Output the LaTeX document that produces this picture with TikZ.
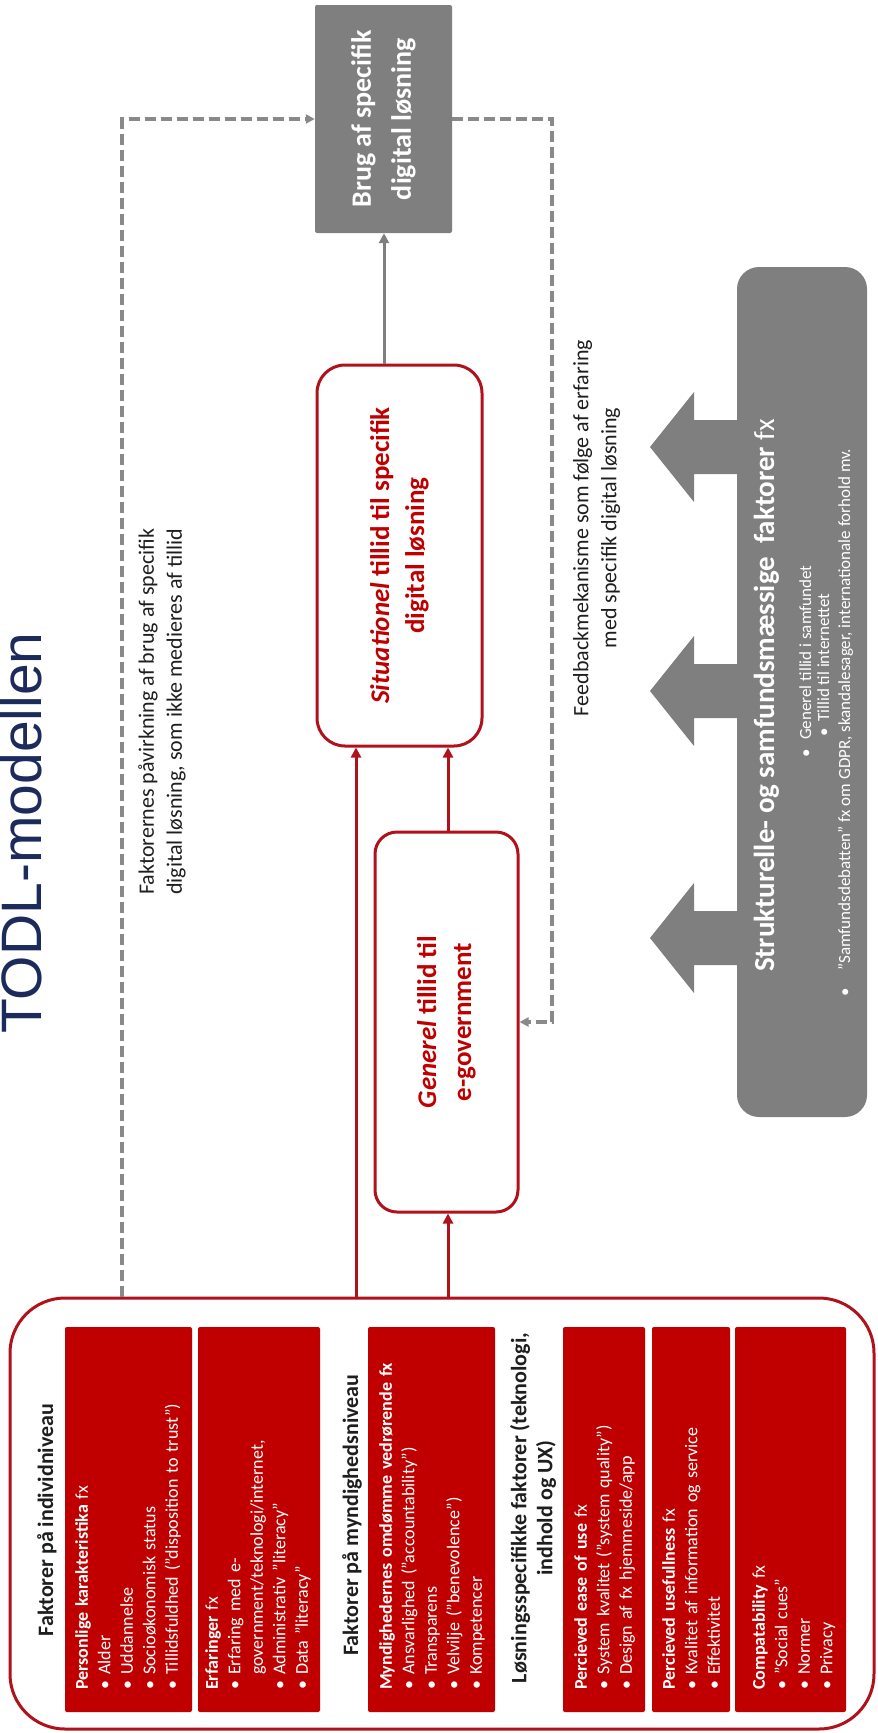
\documentclass[tikz,border=0pt]{standalone}
\usepackage{fontspec}
\setmainfont{Carlito}
\newfontfamily\titlefont{Liberation Sans}
\usetikzlibrary{arrows.meta}
\definecolor{dred}{HTML}{B0121B}
\definecolor{fred}{HTML}{C00000}
\definecolor{gbox}{HTML}{7F7F7F}
\definecolor{gline}{HTML}{898989}
\definecolor{navy}{HTML}{1C2B5B}
\definecolor{txt}{HTML}{1E1E1E}
\newcommand{\fsz}[2]{\fontsize{#1}{#2}\selectfont}
\newcommand{\bul}[1]{\makebox[15pt][l]{\textbullet}#1}
\begin{document}
\begin{tikzpicture}[x=1pt,y=-1pt,
  redarrow/.style={draw=dred, line width=3pt, -{Triangle[length=10pt,width=10pt]}},
  grayarrow/.style={draw=gbox, line width=3pt, -{Triangle[length=10pt,width=10pt]}},
  dashline/.style={draw=gline, line width=3.2pt, dash pattern=on 11pt off 5pt, -{Triangle[length=9pt,width=9pt]}},
  roundbox/.style={draw=dred, line width=3pt, fill=white, rectangle, inner sep=0pt},
  redcell/.style={fill=fred, rounded corners=2pt},
  celltext/.style={rotate=90, anchor=north west, inner sep=0pt, text=white, font=\fsz{18}{22.5}, align=left, text width=370pt},
  heading/.style={rotate=90, inner sep=0pt, text=txt, font=\fsz{22}{26}\bfseries, align=center},
  plaintext/.style={rotate=90, inner sep=0pt, text=txt, font=\fsz{22}{28}},
  bigarrow/.style={fill=gbox},
]
\useasboundingbox (0,0) rectangle (878,1733);

% title
\node[rotate=90, anchor=base west, inner sep=0pt, text=navy, font=\titlefont\fsz{57}{60}] (title) at (41,1034) {TODL-modellen};

% big factor box
\node[roundbox, rounded corners=55pt, minimum width=864pt, minimum height=431pt] (indiv) at (442,1513.5) {};

% red cells
\fill[redcell] (65,1327) rectangle (192,1712);
\fill[redcell] (198,1327) rectangle (320,1712);
\fill[redcell] (368,1327) rectangle (495,1712);
\fill[redcell] (563,1327) rectangle (645,1712);
\fill[redcell] (652,1327) rectangle (730,1712);
\fill[redcell] (735,1327) rectangle (846,1712);

\node[celltext] (c1) at (75,1690) {\textbf{Personlige karakteristika} fx\\
\bul{Alder}\\ \bul{Uddannelse}\\ \bul{Socioøkonomisk status}\\ \bul{Tillidsfuldhed (”disposition to trust”)}};
\node[celltext] (c2) at (205,1690) {\textbf{Erfaringer} fx\\
\bul{Erfaring med e-}\\ \hspace*{15pt}government/teknologi/internet,\\ \bul{Administrativ ”literacy”}\\ \bul{Data ”literacy”}};
\node[celltext] (c3) at (379,1690) {\textbf{Myndighedernes omdømme vedrørende fx}\\
\bul{Ansvarlighed (”accountability”)}\\ \bul{Transparens}\\ \bul{Velvilje (”benevolence”)}\\ \bul{Kompetencer}};
\node[celltext] (c4) at (574,1690) {\textbf{Percieved ease of use} fx\\
\bul{System kvalitet (”system quality”)}\\ \bul{Design af fx hjemmeside/app}};
\node[celltext] (c5) at (662,1690) {\textbf{Percieved usefullness} fx\\
\bul{Kvalitet af information og service}\\ \bul{Effektivitet}};
\node[celltext] (c6) at (752,1690) {\textbf{Compatability} fx\\
\bul{”Social cues”}\\ \bul{Normer}\\ \bul{Privacy}};

% headings
\node[heading] (h1) at (47,1520) {Faktorer på individniveau};
\node[heading] (h2) at (352,1515) {Faktorer på myndighedsniveau};
\node[heading] (h3) at (533,1508) {Løsningsspecifikke faktorer (teknologi,\\indhold og UX)};

% trust boxes
\node[roundbox, rounded corners=28pt, minimum width=165pt, minimum height=381pt] (sit) at (399.5,555.5) {};
\node[rotate=90, inner sep=0pt, text=fred, font=\fsz{27}{35}\bfseries, align=center] at (sit.center) {\textit{Situationel} tillid til specifik\\digital løsning};
\node[roundbox, rounded corners=22pt, minimum width=143pt, minimum height=380pt] (gen) at (446.5,1022) {};
\node[rotate=90, inner sep=0pt, text=fred, font=\fsz{27}{35}\bfseries, align=center] at (gen.center) {\textit{Generel} tillid til\\e-government};

% use box
\node[rectangle, fill=gbox, rounded corners=2pt, minimum width=137pt, minimum height=228pt, inner sep=0pt] (brug) at (383.5,119) {};
\node[rotate=90, inner sep=0pt, text=white, font=\fsz{28}{40}\bfseries, align=center] at (brug.center) {Brug af specifik\\digital løsning};

% structural box
\node[rectangle, fill=gbox, rounded corners=22pt, minimum width=130pt, minimum height=850pt, inner sep=0pt] (strukt) at (802,692) {};
\node[rotate=90, anchor=base west, inner sep=0pt, text=white, font=\fsz{29}{36}] at (774,972) {\textbf{Strukturelle- og samfundsmæssige\ \ faktorer} fx};
\node[rotate=90, anchor=base west, inner sep=0pt, text=white, font=\fsz{17}{20}] at (811,758) {\makebox[18pt][l]{\textbullet}Generel tillid i samfundet};
\node[rotate=90, anchor=base west, inner sep=0pt, text=white, font=\fsz{17}{20}] at (829,737) {\makebox[15pt][l]{\textbullet}Tillid til internettet};
\node[rotate=90, anchor=base west, inner sep=0pt, text=white, font=\fsz{17}{20}] at (850,997) {\makebox[26pt][l]{\textbullet}”Samfundsdebatten” fx om GDPR, skandalesager, internationale forhold mv.};

% big gray arrows
\foreach \yc in {447,691,938} {
  \fill[bigarrow] (strukt.west |- 0,\yc-27) -- (694,\yc-27) -- (694,\yc-55) -- (650,\yc) -- (694,\yc+55) -- (694,\yc+27) -- (strukt.west |- 0,\yc+27) -- cycle;
}

% red connectors
\draw[redarrow] (356,0 |- indiv.north) -- (356,0 |- sit.south);
\draw[redarrow] (448,0 |- indiv.north) -- (448,0 |- gen.south);
\draw[redarrow] (448,0 |- gen.north) -- (448,0 |- sit.south);

% gray solid connector
\draw[grayarrow] (384,0 |- sit.north) -- (384,0 |- brug.south);

% dashed connectors
\draw[dashline] (122,0 |- indiv.north) |- (brug.west);
\draw[dashline] (brug.east) -- (552,0 |- brug.east) -- (552,0 |- gen.east) -- (gen.east);

% free texts
\node[plaintext, anchor=north west, align=left] (t1) at (138,895) {Faktorernes påvirkning af brug af specifik\\digital løsning, som ikke medieres af tillid};
\node[plaintext, anchor=north, align=center] (t2) at (573,528) {Feedbackmekanisme som følge af erfaring\\med specifik digital løsning};
\end{tikzpicture}
\end{document}
